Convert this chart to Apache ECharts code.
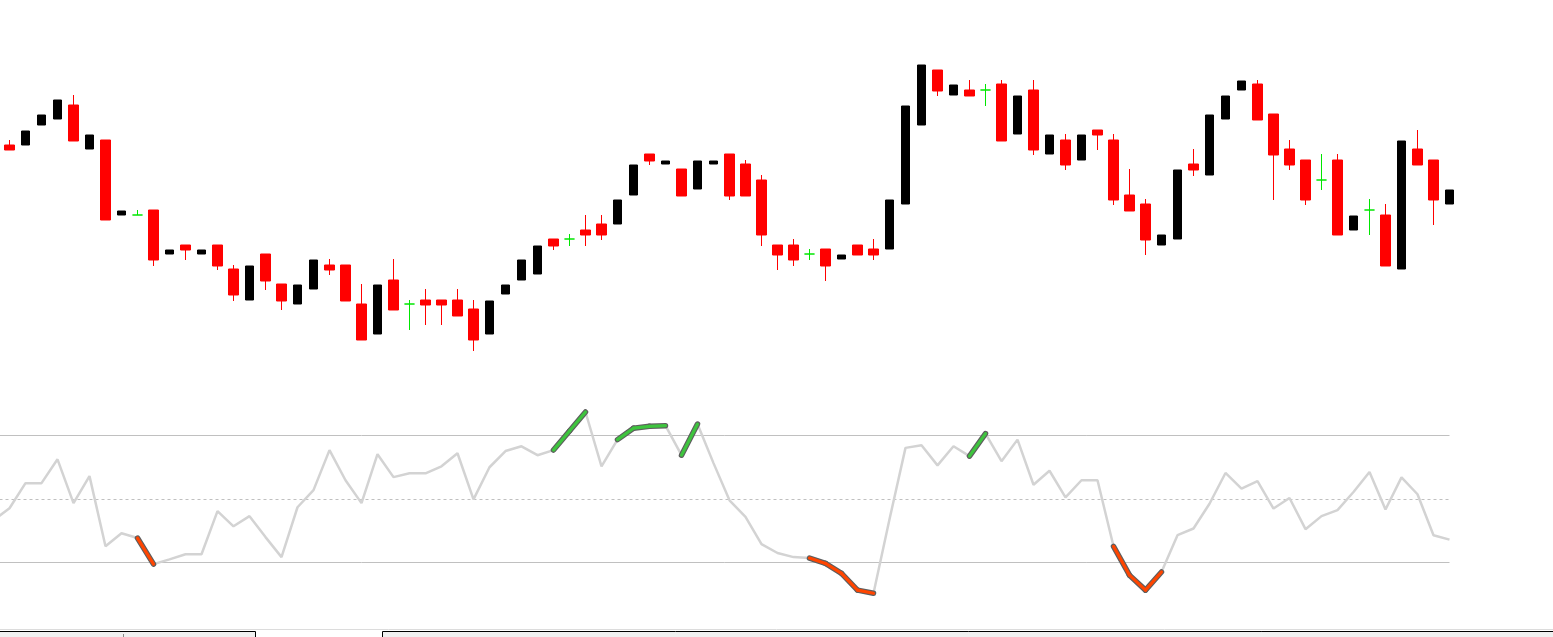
<!DOCTYPE html>
<html><head><meta charset="utf-8">
<script src="https://cdn.jsdelivr.net/npm/echarts@6/dist/echarts.min.js"></script>
<style>html,body{margin:0;padding:0;background:#fff;overflow:hidden}#c{width:1553px;height:637px}</style>
</head><body><div id="c"></div>
<script>
// ---- data (91 visible bars; RSI has one extra leading value for the bar just off-screen) ----
const opens = [1.2855,1.2855,1.2875,1.2881,1.2895,1.2851,1.2860,1.2785,1.2785,1.2790,
1.2746,1.2755,1.2746,1.2755,1.2731,1.2700,1.2746,1.2716,1.2696,1.2711,
1.2735,1.2735,1.2696,1.2666,1.2720,1.2696,1.2700,1.2700,1.2700,1.2691,
1.2666,1.2706,1.2720,1.2726,1.2761,1.2761,1.2770,1.2776,1.2776,1.2805,
1.2846,1.2836,1.2831,1.2811,1.2836,1.2846,1.2836,1.2820,1.2755,1.2755,
1.2746,1.2751,1.2741,1.2755,1.2751,1.2751,1.2796,1.2875,1.2930,1.2905,
1.2910,1.2910,1.2916,1.2866,1.2910,1.2846,1.2860,1.2840,1.2870,1.2860,
1.2805,1.2796,1.2755,1.2761,1.2836,1.2825,1.2881,1.2910,1.2916,1.2886,
1.2851,1.2840,1.2820,1.2840,1.2770,1.2790,1.2785,1.2731,1.2851,1.2840,
1.2796];
const closes = [1.2850,1.2869,1.2885,1.2900,1.2859,1.2865,1.2780,1.2789,1.2785,1.2740,
1.2750,1.2750,1.2750,1.2734,1.2705,1.2734,1.2719,1.2699,1.2715,1.2740,
1.2730,1.2699,1.2660,1.2715,1.2690,1.2696,1.2695,1.2695,1.2684,1.2660,
1.2699,1.2715,1.2740,1.2754,1.2754,1.2761,1.2765,1.2765,1.2800,1.2835,
1.2839,1.2839,1.2804,1.2839,1.2839,1.2804,1.2804,1.2765,1.2745,1.2740,
1.2746,1.2734,1.2745,1.2745,1.2745,1.2800,1.2894,1.2935,1.2909,1.2915,
1.2904,1.2910,1.2859,1.2904,1.2850,1.2865,1.2835,1.2865,1.2865,1.2800,
1.2789,1.2760,1.2765,1.2830,1.2830,1.2885,1.2904,1.2919,1.2880,1.2845,
1.2835,1.2800,1.2820,1.2765,1.2784,1.2790,1.2734,1.2859,1.2835,1.2800,
1.2810];
const lows = [1.2850,1.2855,1.2875,1.2881,1.2859,1.2851,1.2780,1.2785,1.2785,1.2734,
1.2746,1.2740,1.2746,1.2730,1.2699,1.2700,1.2710,1.2690,1.2696,1.2711,
1.2725,1.2699,1.2660,1.2666,1.2690,1.2670,1.2675,1.2675,1.2684,1.2649,
1.2666,1.2706,1.2720,1.2726,1.2750,1.2754,1.2754,1.2760,1.2776,1.2805,
1.2835,1.2836,1.2804,1.2811,1.2836,1.2800,1.2804,1.2754,1.2730,1.2734,
1.2740,1.2719,1.2741,1.2745,1.2740,1.2751,1.2796,1.2875,1.2904,1.2905,
1.2904,1.2894,1.2859,1.2866,1.2845,1.2846,1.2830,1.2840,1.2850,1.2795,
1.2789,1.2745,1.2755,1.2761,1.2824,1.2825,1.2881,1.2910,1.2880,1.2800,
1.2830,1.2795,1.2810,1.2765,1.2770,1.2765,1.2734,1.2731,1.2835,1.2775,
1.2796];
const highs = [1.2860,1.2869,1.2885,1.2900,1.2905,1.2865,1.2860,1.2789,1.2790,1.2790,
1.2750,1.2755,1.2750,1.2755,1.2735,1.2734,1.2746,1.2716,1.2715,1.2740,
1.2741,1.2735,1.2716,1.2715,1.2741,1.2700,1.2711,1.2700,1.2711,1.2700,
1.2699,1.2715,1.2740,1.2754,1.2761,1.2766,1.2785,1.2785,1.2800,1.2835,
1.2846,1.2839,1.2831,1.2839,1.2839,1.2846,1.2840,1.2825,1.2755,1.2761,
1.2751,1.2751,1.2745,1.2755,1.2761,1.2800,1.2894,1.2935,1.2930,1.2915,
1.2920,1.2916,1.2920,1.2904,1.2920,1.2865,1.2866,1.2865,1.2870,1.2866,
1.2831,1.2801,1.2765,1.2830,1.2851,1.2885,1.2904,1.2919,1.2920,1.2886,
1.2860,1.2840,1.2846,1.2846,1.2784,1.2801,1.2796,1.2859,1.2870,1.2840,
1.2810];
const rsi = [43.3,
47.1,55.0,55.0,62.5,48.7,57.2,35.1,39.2,37.7,29.5,
31.0,32.6,32.6,46.2,41.4,44.6,38.0,31.7,47.4,52.8,
65.4,55.9,48.7,64.1,56.9,58.1,58.1,60.3,64.4,49.9,
60.0,65.1,66.6,63.8,65.4,71.4,77.4,60.3,68.7,72.3,
72.9,73.1,63.8,73.6,61.3,49.6,44.4,35.8,33.0,31.7,
31.4,29.7,26.6,21.3,20.3,43.6,66.1,66.9,60.6,66.6,
63.5,70.6,61.9,68.7,54.5,58.9,50.5,55.9,55.9,35.1,
26.0,21.3,27.0,38.6,40.7,48.5,58.2,53.3,55.6,47.0,
50.3,40.5,44.6,46.5,52.2,58.5,46.7,56.8,51.5,38.6,
37.2];
const upperLevel = 70, middleLevel = 50, lowerLevel = 30;
const categories = opens.map((_, i) => 'bar' + i);

// ---- build series data ----
const upData = [], downData = [], dojiData = [];
for (let k = 0; k < opens.length; k++) {
  const d = [opens[k], closes[k], lows[k], highs[k]];
  const diff = Math.round((closes[k] - opens[k]) * 1e5);
  upData.push(diff > 0 ? d : '-');
  downData.push(diff < 0 ? d : '-');
  dojiData.push(diff === 0 ? d : '-');
}
// RSI index j corresponds to bar j-1 (j=0 is the bar just before the first visible one)
const rsiPoints = rsi.map((v, j) => [j - 1, v]);
const hiSegs = [], loSegs = [];
for (let j = 1; j < rsiPoints.length; j++) {
  const seg = { coords: [rsiPoints[j - 1], rsiPoints[j]] };
  if (rsi[j] > upperLevel) hiSegs.push(seg);
  else if (rsi[j] < lowerLevel) loSegs.push(seg);
}
const xFirst = rsiPoints[0][0], xLast = rsiPoints[rsiPoints.length - 1][0];
const levelLines = [
  { coords: [[xFirst, upperLevel], [xLast, upperLevel]], lineStyle: { type: 'solid' } },
  { coords: [[xFirst, middleLevel], [xLast, middleLevel]], lineStyle: { type: [3, 3] } },
  { coords: [[xFirst, lowerLevel], [xLast, lowerLevel]], lineStyle: { type: 'solid' } }
];

const chart = echarts.init(document.getElementById('c'), null, { renderer: 'canvas' });
const band = 16;
chart.setOption({
  animation: false,
  backgroundColor: '#ffffff',
  grid: [
    { left: 1.5, top: 0, width: categories.length * band, height: 637, containLabel: false },
    { left: 0, top: 372, width: 1553, height: 254, containLabel: false }
  ],
  xAxis: [
    { type: 'category', gridIndex: 0, data: categories, boundaryGap: true, show: false },
    { type: 'value', gridIndex: 1, min: -9.5 / band, max: -9.5 / band + 1553 / band, show: false }
  ],
  yAxis: [
    { type: 'value', gridIndex: 0, min: 1.2363, max: 1.3, show: false, scale: true },
    { type: 'value', gridIndex: 1, min: 10, max: 90, show: false }
  ],
  series: [
    { type: 'candlestick', name: 'down', xAxisIndex: 0, yAxisIndex: 0, data: downData, barWidth: 10,
      itemStyle: { color: '#ff0000', color0: '#ff0000', borderColor: '#ff0000', borderColor0: '#ff0000', borderColorDoji: '#ff0000', borderWidth: 1 } },
    { type: 'candlestick', name: 'up', xAxisIndex: 0, yAxisIndex: 0, data: upData, barWidth: 8,
      itemStyle: { color: '#000000', color0: '#000000', borderColor: '#000000', borderColor0: '#000000', borderColorDoji: '#000000', borderWidth: 1 } },
    { type: 'candlestick', name: 'doji', xAxisIndex: 0, yAxisIndex: 0, data: dojiData, barWidth: 10,
      itemStyle: { color: '#00e600', color0: '#00e600', borderColor: '#00e600', borderColor0: '#00e600', borderColorDoji: '#00e600', borderWidth: 1 } },
    { type: 'lines', coordinateSystem: 'cartesian2d', xAxisIndex: 1, yAxisIndex: 1, polyline: false, z: 1, silent: true, clip: true,
      data: levelLines, lineStyle: { color: '#c0c0c0', width: 1, opacity: 1 } },
    { type: 'line', name: 'RSI', xAxisIndex: 1, yAxisIndex: 1, data: rsiPoints, symbol: 'none', z: 2, clip: true,
      lineStyle: { color: '#d3d3d3', width: 2.5 } },
    { type: 'lines', coordinateSystem: 'cartesian2d', xAxisIndex: 1, yAxisIndex: 1, polyline: false, z: 3, silent: true,
      data: hiSegs.concat(loSegs), lineStyle: { color: '#5e5e5e', width: 5.5, cap: 'round', opacity: 1 } },
    { type: 'lines', coordinateSystem: 'cartesian2d', xAxisIndex: 1, yAxisIndex: 1, polyline: false, z: 4, silent: true,
      data: hiSegs, lineStyle: { color: '#3ec43e', width: 3.2, cap: 'round', opacity: 1 } },
    { type: 'lines', coordinateSystem: 'cartesian2d', xAxisIndex: 1, yAxisIndex: 1, polyline: false, z: 4, silent: true,
      data: loSegs, lineStyle: { color: '#ff4500', width: 3.2, cap: 'round', opacity: 1 } }
  ],
  graphic: [
    { type: 'line', shape: { x1: 0, y1: 629.5, x2: 1553, y2: 629.5 }, style: { stroke: '#dcdcdc', lineWidth: 1 }, silent: true },
    { type: 'rect', shape: { x: -2, y: 631.5, width: 257.5, height: 12 }, style: { fill: '#f0f0f0', stroke: '#000', lineWidth: 1 }, silent: true },
    { type: 'line', shape: { x1: 123.5, y1: 634, x2: 123.5, y2: 637 }, style: { stroke: '#888', lineWidth: 1 }, silent: true },
    { type: 'rect', shape: { x: 382.5, y: 631.5, width: 1180, height: 12 }, style: { fill: '#f0f0f0', stroke: '#000', lineWidth: 1 }, silent: true }
  ]
});
</script>
</body></html>
